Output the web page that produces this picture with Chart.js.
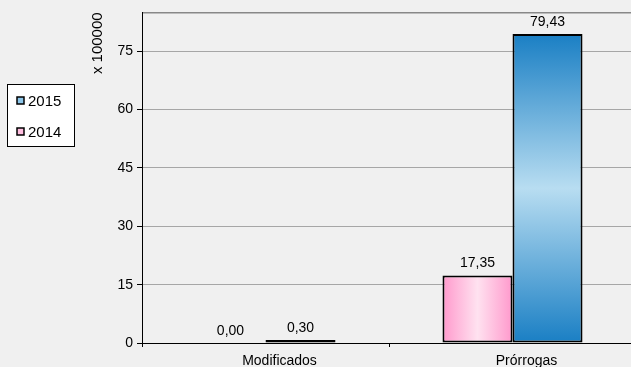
<!DOCTYPE html>
<html>
<head>
<meta charset="utf-8">
<script src="https://cdn.jsdelivr.net/npm/chart.js@4/dist/chart.umd.min.js"></script>
<style>
  html, body { margin: 0; padding: 0; background: #f0f0f0; overflow: hidden; }
  #chart { display: block; }
</style>
</head>
<body>
<canvas id="chart" width="640" height="367"></canvas>
<script>
// values (units of 100000)
const categories = ['Modificados', 'Prórrogas'];
const seriesNames = ['2014', '2015'];
const values2014 = [0.00, 17.35];
const values2015 = [0.30, 79.43];
const yTicks = [0, 15, 30, 45, 60, 75];
const yMax = 85;
const axisTitle = 'x 100000';

const FONT = '"Liberation Sans", Arial, sans-serif';

function fmt(v){
    return v.toFixed(2).replace('.', ',');
}

// gradient fills need the bar geometry, so set them just before drawing
const gradientFill = {
    id: 'gradientFill',
    beforeDatasetsDraw(chart){
        const ctx = chart.ctx;
        chart.data.datasets.forEach(function(ds, i){
            const meta = chart.getDatasetMeta(i);
            meta.data.forEach(function(bar){
                let g;
                if (ds.fillStyle === 'pink') {
                    g = ctx.createLinearGradient(bar.x - bar.width / 2, 0, bar.x + bar.width / 2, 0);
                    g.addColorStop(0, '#ff99cc');
                    g.addColorStop(0.5, '#ffe2f0');
                    g.addColorStop(1, '#ff99cc');
                } else {
                    g = ctx.createLinearGradient(0, bar.y, 0, bar.base);
                    g.addColorStop(0, '#1a7fc4');
                    g.addColorStop(0.5, '#b8ddf1');
                    g.addColorStop(1, '#1a7fc4');
                }
                bar.options.backgroundColor = g;
            });
        });
    }
};

const valueLabels = {
    id: 'valueLabels',
    afterDatasetsDraw(chart){
        const ctx = chart.ctx;
        ctx.save();
        ctx.font = '14px ' + FONT;
        ctx.fillStyle = '#000';
        ctx.textAlign = 'center';
        ctx.textBaseline = 'bottom';
        chart.data.datasets.forEach(function(ds, i){
            chart.getDatasetMeta(i).data.forEach(function(bar, j){
                ctx.fillText(fmt(ds.data[j]), bar.x, bar.y - 5);
            });
        });
        ctx.restore();
    }
};

const boxLegend = {
    id: 'boxLegend',
    afterDraw(chart){
        const ctx = chart.ctx;
        ctx.save();
        ctx.fillStyle = '#fff';
        ctx.fillRect(7, 84, 67, 62);
        ctx.strokeStyle = '#000';
        ctx.lineWidth = 1;
        ctx.strokeRect(7.5, 84.5, 67, 62);
        ctx.font = '15px ' + FONT;
        ctx.textBaseline = 'middle';
        const items = chart.data.datasets.slice().reverse();
        items.forEach(function(ds, k){
            const cy = 101 + k * 31;
            ctx.fillStyle = ds.markerColor;
            ctx.fillRect(17, cy - 4, 7, 7);
            ctx.strokeStyle = '#000';
            ctx.lineWidth = 1.5;
            ctx.strokeRect(17, cy - 4, 7, 7);
            ctx.fillStyle = '#000';
            ctx.fillText(ds.label, 28, cy + 1);
        });
        ctx.restore();
    }
};

new Chart(document.getElementById('chart'), {
    type: 'bar',
    data: {
        labels: categories,
        datasets: [
            {
                label: seriesNames[0],
                data: values2014,
                fillStyle: 'pink',
                markerColor: '#ffbedf',
                backgroundColor: function(){ return '#ff99cc'; },
                borderColor: '#000',
                borderWidth: 2,
                borderSkipped: false,
                categoryPercentage: 0.567,
                barPercentage: 1
            },
            {
                label: seriesNames[1],
                data: values2015,
                fillStyle: 'blue',
                markerColor: '#8cc6ea',
                backgroundColor: function(){ return '#1a7fc4'; },
                borderColor: '#000',
                borderWidth: 2,
                borderSkipped: false,
                minBarLength: 3,
                categoryPercentage: 0.567,
                barPercentage: 1
            }
        ]
    },
    options: {
        responsive: false,
        animation: false,
        layout: { padding: { left: 88, top: 12, right: 4, bottom: 0 } },
        plugins: {
            legend: { display: false },
            tooltip: { enabled: false }
        },
        scales: {
            x: {
                border: { color: '#000', width: 1 },
                grid: { drawOnChartArea: false, drawTicks: true, tickLength: 4, tickColor: '#000', offset: true },
                ticks: { color: '#000', font: { family: FONT, size: 14 }, padding: 6, labelOffset: 14 },
                afterFit: function(scale){ scale.height = 24; }
            },
            y: {
                min: 0,
                max: yMax,
                border: { color: '#000', width: 1 },
                afterBuildTicks: function(scale){
                    scale.ticks = yTicks.concat([yMax]).map(function(v){ return { value: v }; });
                },
                afterFit: function(scale){ scale.width = 54; },
                grid: {
                    color: function(c){ return c.tick && c.tick.value === yMax ? '#888' : '#a6a6a6'; },
                    lineWidth: function(c){ return c.tick && c.tick.value === yMax ? 1.6 : 1; },
                    tickColor: function(c){ return c.tick && c.tick.value === yMax ? 'rgba(0,0,0,0)' : '#000'; },
                    tickLength: 5
                },
                ticks: {
                    color: '#000',
                    font: { family: FONT, size: 14 },
                    padding: 4,
                    callback: function(v){ return v === yMax ? '' : v; }
                },
                title: {
                    display: true,
                    text: axisTitle,
                    align: 'end',
                    color: '#000',
                    font: { family: FONT, size: 15 },
                    padding: { top: 1, bottom: 0 }
                }
            }
        }
    },
    plugins: [gradientFill, valueLabels, boxLegend]
});
</script>
</body>
</html>
